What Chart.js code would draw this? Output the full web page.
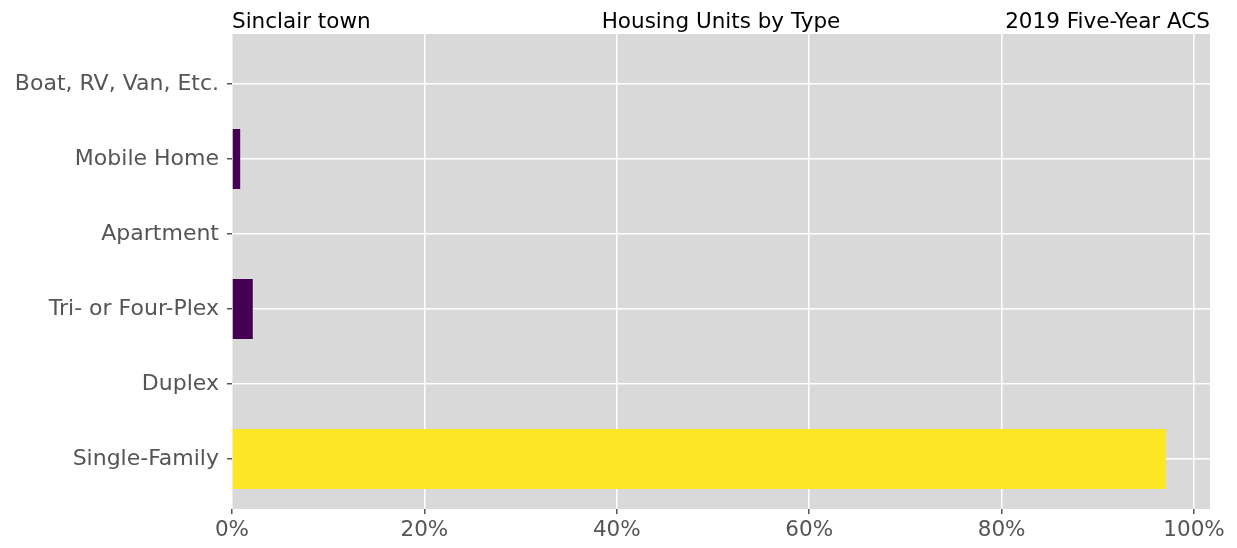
<!DOCTYPE html>
<html>
<head>
<meta charset="utf-8">
<script src="https://cdn.jsdelivr.net/npm/chart.js@4/dist/chart.umd.min.js"></script>
<style>
  html, body { margin: 0; padding: 0; background: #fff; }
  #wrap { width: 1237px; height: 548px; }
</style>
</head>
<body>
<div id="wrap"><canvas id="housingChart" width="1237" height="548"></canvas></div>
<script>
// categories, bottom to top
const categories = ['Single-Family', 'Duplex', 'Tri- or Four-Plex', 'Apartment', 'Mobile Home', 'Boat, RV, Van, Etc.'];
// share of housing units, percent
const shares = [97.06, 0, 2.16, 0, 0.85, 0];
const barColors = ['#fde725', '#440154', '#440154', '#440154', '#440154', '#440154'];
const xTicks = [0, 20, 40, 60, 80, 100];

const titleLeft = 'Sinclair town';
const titleCenter = 'Housing Units by Type';
const titleRight = '2019 Five-Year ACS';

const FONT = 'DejaVu Sans, sans-serif';

// plot background + three header texts
const backdrop = {
    id: 'backdrop',
    beforeDraw(chart) {
        const { ctx, chartArea: a } = chart;
        ctx.save();
        ctx.fillStyle = '#d9d9d9';
        ctx.fillRect(a.left, a.top, a.right - a.left, a.bottom - a.top);
        ctx.restore();
    },
    afterDraw(chart) {
        const { ctx, chartArea: a } = chart;
        ctx.save();
        ctx.fillStyle = '#000';
        ctx.font = '21.5px ' + FONT;
        ctx.textBaseline = 'alphabetic';
        const y = a.top - 6;
        ctx.textAlign = 'left';
        ctx.fillText(titleLeft, a.left, y);
        ctx.textAlign = 'center';
        ctx.fillText(titleCenter, (a.left + a.right) / 2, y);
        ctx.textAlign = 'right';
        ctx.fillText(titleRight, a.right, y);
        ctx.restore();
    }
};

const points = categories.map((c, i) => ({ x: shares[i], y: i }));

new Chart(document.getElementById('housingChart').getContext('2d'), {
    type: 'bar',
    data: {
        datasets: [{
            data: points,
            backgroundColor: barColors,
            borderWidth: 0,
            barPercentage: 0.8,
            categoryPercentage: 1
        }]
    },
    options: {
        indexAxis: 'y',
        responsive: false,
        animation: false,
        layout: { padding: { top: 34, right: 27, left: 0, bottom: 0 } },
        plugins: {
            legend: { display: false },
            tooltip: { enabled: false }
        },
        scales: {
            x: {
                type: 'linear',
                min: 0,
                max: 101.66,
                afterBuildTicks(scale) {
                    scale.ticks = xTicks.map(v => ({ value: v }));
                },
                afterFit(scale) { scale.height = 39; },
                border: { display: false },
                grid: {
                    color: '#ffffff',
                    lineWidth: 1.5,
                    drawTicks: true,
                    tickColor: '#555555',
                    tickLength: 5
                },
                ticks: {
                    color: '#555555',
                    font: { family: FONT, size: 21.5 },
                    padding: 4,
                    maxRotation: 0,
                    callback: v => v + '%'
                }
            },
            y: {
                type: 'linear',
                offset: false,
                min: -0.667,
                max: 5.667,
                afterBuildTicks(scale) {
                    scale.ticks = categories.map((c, i) => ({ value: i }));
                },
                afterFit(scale) { scale.width = 232; },
                border: { display: false },
                grid: {
                    offset: false,
                    color: '#ffffff',
                    lineWidth: 1.5,
                    drawTicks: true,
                    tickColor: '#555555',
                    tickLength: 5
                },
                ticks: {
                    color: '#555555',
                    font: { family: FONT, size: 22 },
                    padding: 8,
                    callback: v => categories[v] || ''
                }
            }
        }
    },
    plugins: [backdrop]
});
</script>
</body>
</html>
